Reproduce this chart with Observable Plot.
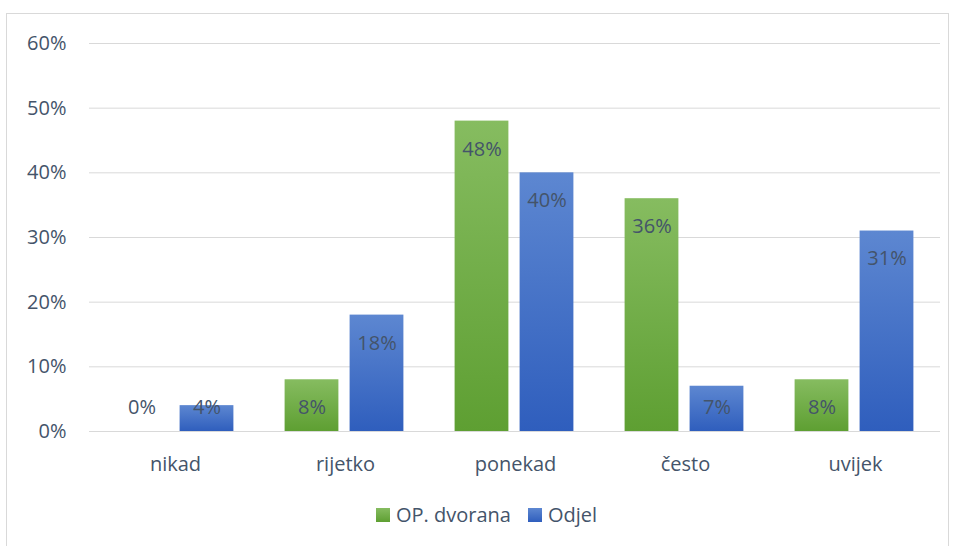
<!DOCTYPE html>
<html>
<head>
<meta charset="utf-8">
<script src="https://cdn.jsdelivr.net/npm/d3@7"></script>
<script src="https://cdn.jsdelivr.net/npm/@observablehq/plot@0.6"></script>
<style>
  html, body { margin: 0; padding: 0; background: #fff; }
  body { width: 955px; height: 546px; position: relative; overflow: hidden; font-family: "Open Sans", sans-serif; }
  #frame { position: absolute; left: 6px; top: 13px; width: 943px; height: 540px; border: 1px solid #D9D9D9; box-sizing: border-box; }
  #chart { position: absolute; left: 0; top: 0; }
  #legend { position: absolute; left: 376px; top: 503px; display: flex; align-items: center; font-size: 20px; color: #44546A; line-height: 24px; }
  .sw { width: 14px; height: 14px; display: inline-block; margin-right: 6px; }
  .item { display: flex; align-items: center; margin-right: 17px; }
</style>
</head>
<body>
<div id="frame"></div>
<div id="chart"></div>
<div id="legend"></div>
<script>
const categories = ["nikad", "rijetko", "ponekad", "često", "uvijek"];
const seriesNames = ["OP. dvorana", "Odjel"];
const dvorana = [0, 8, 48, 36, 8];
const odjel = [4, 18, 40, 7, 31];
const yTicks = [0, 10, 20, 30, 40, 50, 60];

const colors = {
  "OP. dvorana": ["#86BC60", "#5E9F32"],
  "Odjel": ["#5D87D1", "#2F5EBD"]
};
const gradIds = { "OP. dvorana": "gradG", "Odjel": "gradB" };
const offsets = { "OP. dvorana": -33.5, "Odjel": 31.5 };

const rows = categories.flatMap((c, i) => [
  { category: c, series: seriesNames[0], value: dvorana[i] },
  { category: c, series: seriesNames[1], value: odjel[i] }
]);

const marks = [Plot.ruleY(yTicks, { stroke: "#D9D9D9", strokeWidth: 1 })];
for (const s of seriesNames) {
  const d = rows.filter(r => r.series === s);
  marks.push(Plot.barY(d, {
    x: "category", y: "value", fill: `url(#${gradIds[s]})`,
    insetLeft: 58.1, insetRight: 58.1, dx: offsets[s]
  }));
  marks.push(Plot.text(d, {
    x: "category", y: r => Math.max(r.value, 8), dy: 28, dx: offsets[s],
    text: r => r.value + "%", fill: "#44546A", fontSize: 20
  }));
}

const svg = Plot.plot({
  width: 955,
  height: 490,
  marginLeft: 89,
  marginRight: 15,
  marginTop: 43,
  marginBottom: 59,
  style: { fontFamily: "Open Sans", fontSize: "20px", color: "#44546A", background: "transparent", overflow: "visible" },
  x: { domain: categories, padding: 0, tickSize: 0, tickPadding: 25, label: null },
  y: { domain: [0, 60], ticks: 6, tickSize: 0, tickPadding: 23, tickFormat: d => d + "%", label: null },
  marks
});

const defs = d3.select(svg).insert("defs", ":first-child");
for (const s of seriesNames) {
  const g = defs.append("linearGradient").attr("id", gradIds[s])
    .attr("x1", 0).attr("y1", 0).attr("x2", 0).attr("y2", 1);
  g.append("stop").attr("offset", "0%").attr("stop-color", colors[s][0]);
  g.append("stop").attr("offset", "100%").attr("stop-color", colors[s][1]);
}
document.getElementById("chart").appendChild(svg);

const legend = d3.select("#legend");
for (const s of seriesNames) {
  const it = legend.append("div").attr("class", "item");
  it.append("span").attr("class", "sw")
    .style("background", `linear-gradient(to bottom, ${colors[s][0]}, ${colors[s][1]})`);
  it.append("span").text(s);
}
</script>
</body>
</html>
